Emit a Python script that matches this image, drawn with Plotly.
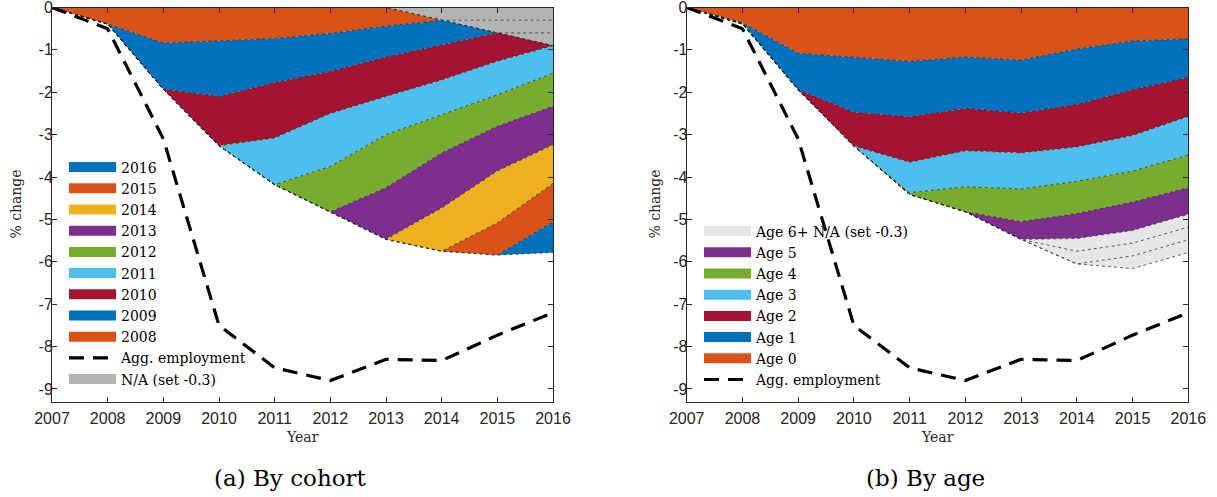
import plotly.graph_objects as go

years = [2007, 2008, 2009, 2010, 2011, 2012, 2013, 2014, 2015, 2016]
agg_employment = [0, -0.5, -3.1, -7.5, -8.5, -8.8, -8.3, -8.33, -7.73, -7.2]

# ---- (a) by cohort: contributions (stack order: N/A layers first, then cohorts)
na_cohort_1 = [0, 0, 0, 0, 0, 0, 0, -0.3, -0.3, -0.3]
na_cohort_2 = [0, 0, 0, 0, 0, 0, 0, 0, -0.3, -0.3]
na_cohort_3 = [0, 0, 0, 0, 0, 0, 0, 0, 0, -0.3]
cohort_2008 = [0, -0.39, -0.84, -0.79, -0.73, -0.61, -0.44, 0, 0, 0]
cohort_2009 = [0, 0, -1.09, -1.31, -1.04, -0.90, -0.73, -0.58, 0, 0]
cohort_2010 = [0, 0, 0, -1.16, -1.31, -0.99, -0.93, -0.83, -0.67, 0]
cohort_2011 = [0, 0, 0, 0, -1.10, -1.25, -0.90, -0.82, -0.79, -0.65]
cohort_2012 = [0, 0, 0, 0, 0, -1.07, -1.25, -0.90, -0.74, -0.78]
cohort_2013 = [0, 0, 0, 0, 0, 0, -1.22, -1.30, -1.06, -0.91]
cohort_2014 = [0, 0, 0, 0, 0, 0, 0, -1.02, -1.22, -0.91]
cohort_2015 = [0, 0, 0, 0, 0, 0, 0, 0, -0.76, -0.91]
cohort_2016 = [0, 0, 0, 0, 0, 0, 0, 0, 0, -0.72]
cohort_labels = ["2008", "2009", "2010", "2011", "2012", "2013", "2014", "2015", "2016"]

# ---- (b) by age
age_0 = [0, -0.36, -1.08, -1.17, -1.27, -1.17, -1.24, -0.98, -0.79, -0.74]
age_1 = [0, 0, -0.86, -1.30, -1.31, -1.21, -1.25, -1.31, -1.15, -0.91]
age_2 = [0, 0, 0, -0.80, -1.07, -1.00, -0.94, -1.00, -1.08, -0.92]
age_3 = [0, -0.01, 0, 0, -0.72, -0.85, -0.85, -0.81, -0.84, -0.91]
age_4 = [0, -0.02, 0, 0, -0.04, -0.59, -0.77, -0.76, -0.73, -0.77]
age_5 = [0, 0, 0, 0, 0, 0, -0.42, -0.59, -0.67, -0.63]
na_age_1 = [0, 0, 0, 0, 0, 0, 0, -0.3, -0.3, -0.3]
na_age_2 = [0, 0, 0, 0, 0, 0, 0, -0.3, -0.3, -0.3]
na_age_3 = [0, 0, 0, 0, 0, 0, 0, 0, -0.3, -0.3]
age_labels = ["Age 0", "Age 1", "Age 2", "Age 3", "Age 4", "Age 5"]

y_ticks = [-9, -8, -7, -6, -5, -4, -3, -2, -1, 0]

ORANGE = "#D95319"
BLUE = "#0072BD"
YELLOW = "#EDB120"
PURPLE = "#7E2F8E"
GREEN = "#77AC30"
LBLUE = "#4DBEEE"
RED = "#A2142F"
GRAY_A = "#B3B3B3"
GRAY_B = "#E6E6E6"

cohort_colors = [ORANGE, BLUE, RED, LBLUE, GREEN, PURPLE, YELLOW, ORANGE, BLUE]
age_colors = [ORANGE, BLUE, RED, LBLUE, GREEN, PURPLE]

SERIF = "DejaVu Serif"
SANS = "Liberation Sans"
AXC = "#262626"
edge = dict(color="#222222", width=0.7, dash="dot")

fig = go.Figure()


def area(y, color, xa, ya, group):
    fig.add_trace(go.Scatter(
        x=years, y=y, mode="lines", stackgroup=group, fillcolor=color,
        line=edge, xaxis=xa, yaxis=ya, showlegend=False, hoverinfo="skip"))


def legend_item(name, color, legend, rank):
    fig.add_trace(go.Scatter(
        x=[None], y=[None], mode="lines", name=name,
        line=dict(color=color, width=14), legend=legend, legendrank=rank,
        showlegend=True))


# left panel stack
for s in [na_cohort_1, na_cohort_2, na_cohort_3]:
    area(s, GRAY_A, "x", "y", "a")
cohort_series = [cohort_2008, cohort_2009, cohort_2010, cohort_2011, cohort_2012,
                 cohort_2013, cohort_2014, cohort_2015, cohort_2016]
for s, c in zip(cohort_series, cohort_colors):
    area(s, c, "x", "y", "a")
fig.add_trace(go.Scatter(x=years, y=agg_employment, mode="lines", name="Agg. employment",
                         line=dict(color="black", width=3.2, dash="15px,9px"),
                         xaxis="x", yaxis="y", legend="legend", legendrank=100))

# right panel stack
age_series = [age_0, age_1, age_2, age_3, age_4, age_5]
for s, c in zip(age_series, age_colors):
    area(s, c, "x2", "y2", "b")
for s in [na_age_1, na_age_2, na_age_3]:
    area(s, GRAY_B, "x2", "y2", "b")
fig.add_trace(go.Scatter(x=years, y=agg_employment, mode="lines", name="Agg. employment",
                         line=dict(color="black", width=3.2, dash="15px,9px"),
                         xaxis="x2", yaxis="y2", legend="legend2", legendrank=100))

# legend entries
for i, (lab, c) in enumerate(zip(cohort_labels[::-1], cohort_colors[::-1])):
    legend_item(lab, c, "legend", 10 + i)
legend_item("N/A (set -0.3)", GRAY_A, "legend", 200)
legend_item("Age 6+ N/A (set -0.3)", GRAY_B, "legend2", 5)
for i, (lab, c) in enumerate(zip(age_labels[::-1], age_colors[::-1])):
    legend_item(lab, c, "legend2", 10 + i)

W, H = 1217, 497
xl = (52 / W, 553 / W)
xr = (686.7 / W, 1188.3 / W)
yd = (1 - 401.7 / H, 1 - 7.5 / H)

xcommon = dict(range=[2007, 2016], tickmode="array", tickvals=years,
               ticktext=[str(y) for y in years], ticks="inside", ticklen=5,
               tickcolor=AXC, showline=True, linecolor=AXC, linewidth=1,
               mirror="ticks", showgrid=False, zeroline=False, automargin=False,
               ticklabelstandoff=2, ticklabeloverflow="allow",
               tickfont=dict(family=SANS, size=16, color=AXC))
ycommon = dict(range=[-9.3, 0], tickmode="array", tickvals=y_ticks,
               ticktext=[str(v) for v in y_ticks], ticks="inside", ticklen=5,
               tickcolor=AXC, showline=True, linecolor=AXC, linewidth=1,
               mirror="ticks", showgrid=False, zeroline=False, automargin=False,
               ticklabelstandoff=-5, ticklabeloverflow="allow",
               tickfont=dict(family=SANS, size=16, color=AXC))

legcommon = dict(bgcolor="rgba(0,0,0,0)", borderwidth=0, traceorder="normal",
                 font=dict(family=SERIF, size=14, color="black"),
                 itemwidth=47, tracegroupgap=0, xanchor="left", yanchor="top")


def ann(text, x, y, size, angle=0, color="black"):
    return dict(text=text, x=x / W, y=1 - y / H, xref="paper", yref="paper",
                showarrow=False, font=dict(family=SERIF, size=size, color=color),
                xanchor="center", yanchor="middle", textangle=angle)


fig.update_layout(
    template="none",
    width=W, height=H, margin=dict(l=0, r=0, t=0, b=0, autoexpand=False),
    paper_bgcolor="white", plot_bgcolor="white",
    xaxis=dict(domain=xl, anchor="y", **xcommon),
    yaxis=dict(domain=yd, anchor="x", **ycommon),
    xaxis2=dict(domain=xr, anchor="y2", **xcommon),
    yaxis2=dict(domain=yd, anchor="x2", **ycommon),
    legend=dict(x=64 / W, y=1 - 151.5 / H, **legcommon),
    legend2=dict(x=699 / W, y=1 - 215.5 / H, **legcommon),
    showlegend=True,
    annotations=[
        ann("Year", 302.5, 437, 14, color=AXC),
        ann("Year", 937.5, 437, 14, color=AXC),
        ann("% change", 16, 204.6, 14, angle=-90, color=AXC),
        ann("% change", 655, 204.6, 14, angle=-90, color=AXC),
        ann("(a) By cohort", 290, 478, 23),
        ann("(b) By age", 925, 478, 23),
    ],
)

fig.write_html("out.html", config={"displayModeBar": False},
               post_script="document.body.style.margin='0px';document.body.style.overflow='hidden';")
